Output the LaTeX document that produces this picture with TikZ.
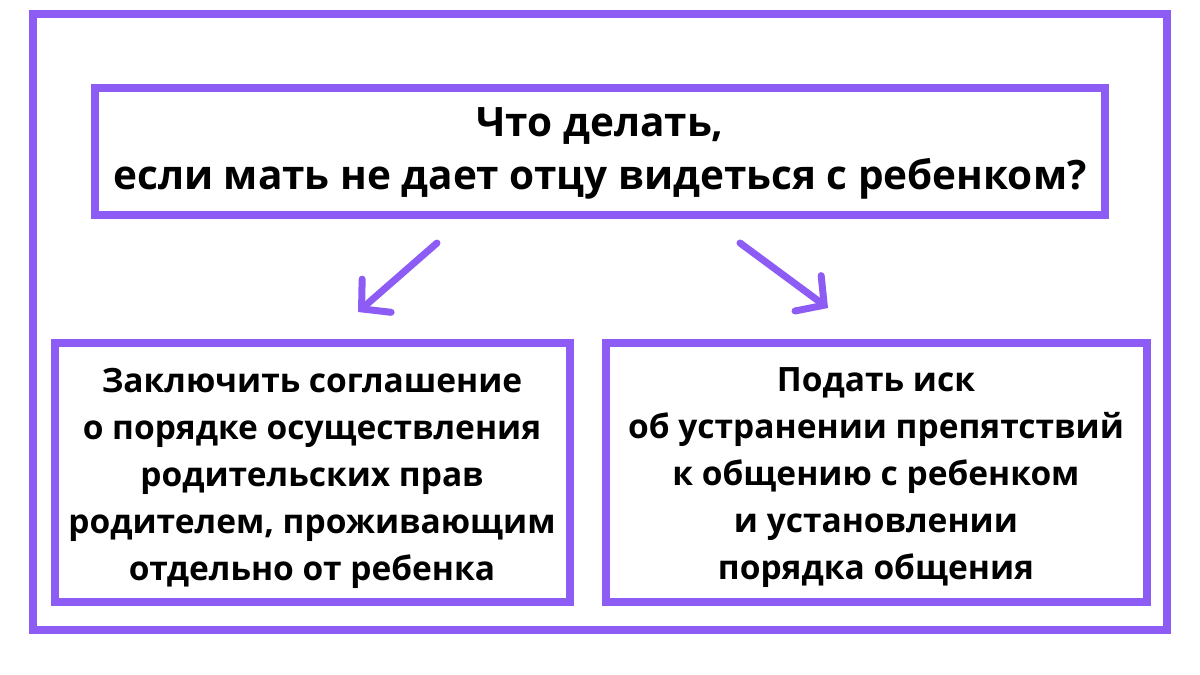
\documentclass[tikz,border=0pt]{standalone}
\usepackage{fontspec}
\setmainfont{Open Sans}
\usetikzlibrary{arrows.meta}
\definecolor{violet}{RGB}{140,92,245}
\tikzset{
  frame/.style={draw=violet, line width=8pt},
  label/.style={font=\bfseries\fontsize{33.5}{47}\selectfont, align=center, text=black},
  title/.style={font=\bfseries\fontsize{40.5}{53}\selectfont, align=center, text=black},
  arrow/.style={draw=violet, line width=7pt, line cap=round,
    -{Straight Barb[length=20pt,width=44pt,line cap=round]}}
}
\begin{document}
\begin{tikzpicture}[x=1pt,y=-1pt]
    \useasboundingbox (0,0) rectangle (1200,675);

    % Outer frame
    \draw[frame] (33,14) rectangle (1167,630);

    % Question
    \draw[frame] (95,88) rectangle (1105,215);
    \node[title] (question) at (600,153) {Что делать,\\если мать не дает отцу видеться с ребенком?};

    % Two ways
    \draw[frame] (55,343) rectangle (570,602);
    \node[label] (agreement) at (312,478) {Заключить соглашение\\о порядке осуществления\\родительских прав\\родителем, проживающим\\отдельно от ребенка};
    \draw[frame] (606,343) rectangle (1147,602);
    \node[label] (lawsuit) at (876,478) {Подать иск\\об устранении препятствий\\к общению с ребенком\\и установлении\\порядка общения};

    % Arrows
    \coordinate (l1) at (437,243);
    \coordinate (l2) at (358,312);
    \coordinate (r1) at (740,243);
    \coordinate (r2) at (828,308);
    \draw[arrow] (l1) -- (l2);
    \draw[arrow] (r1) -- (r2);

\end{tikzpicture}
\end{document}
